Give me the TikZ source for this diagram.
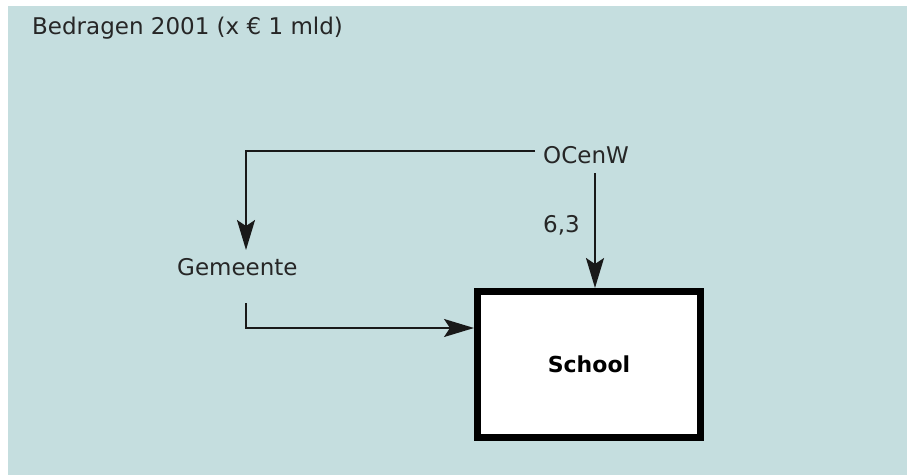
\documentclass[tikz,border=0pt]{standalone}
\usepackage{fontspec}
\setmainfont{DejaVu Sans}
\usetikzlibrary{arrows.meta}
\definecolor{bgblue}{RGB}{197,222,223}
\tikzset{
  lbl/.style={font=\fontsize{23}{26}\selectfont, inner sep=0pt, text=black!85},
  conn/.style={line width=2pt, draw=black!90},
  arr/.style={conn, -{Stealth[length=30pt, width=18pt, inset=6pt]}},
  schoolbox/.style={draw=black, line width=7pt, fill=white, minimum width=223pt, minimum height=146pt, inner sep=0pt, font=\fontsize{22}{26}\selectfont\bfseries}
}
\begin{document}
\begin{tikzpicture}[x=1pt,y=1pt]
  \useasboundingbox (0,0) rectangle (907,475);
  \fill[white] (0,0) rectangle (907,475);
  \fill[bgblue] (8,0) rectangle (907,469);
  \node[lbl, anchor=base west] (title) at (32,440) {Bedragen 2001 (x € 1 mld)};
  \node[lbl, anchor=base west] (ocenw) at (543,312) {OCenW};
  \node[lbl, anchor=base west] (gemeente) at (177,200) {Gemeente};
  \node[lbl, anchor=base west] (val) at (543,243) {6,3};
  \node[schoolbox] (school) at (589,110.5) {School};
  \coordinate (ocenwline) at (535,324);
  \coordinate (gemtip) at (246,225);
  \coordinate (gemstart) at (246,172);
  \coordinate (ocstart) at (595,302);
  \draw[arr] (ocenwline) -| (gemtip);
  \draw[arr] (ocstart) -- (ocstart |- school.north);
  \draw[arr] (gemstart) |- (school.west |- 0,147);
\end{tikzpicture}
\end{document}
